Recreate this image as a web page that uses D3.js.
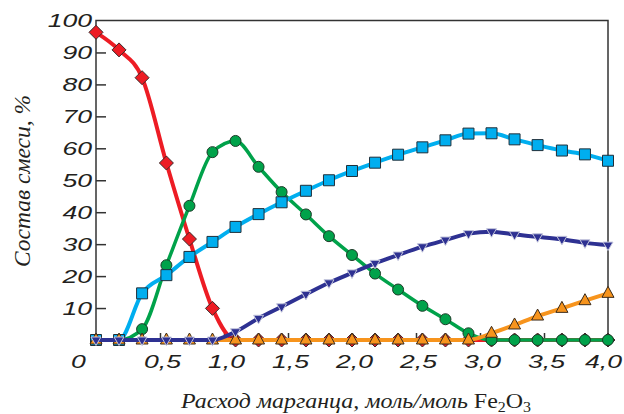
<!DOCTYPE html>
<html>
<head>
<meta charset="utf-8">
<title>Состав смеси</title>
<style>
  body { margin: 0; background: #fff; }
  svg { display: block; }
</style>
</head>
<body>
<div id="chart"></div>
<script src="https://d3js.org/d3.v7.min.js"></script>
<script>
// расход марганца, моль/моль Fe2O3
var xValues = [0, 0.18, 0.36, 0.55, 0.73, 0.91, 1.09, 1.27, 1.45, 1.64, 1.82, 2.0,
               2.18, 2.36, 2.55, 2.73, 2.91, 3.09, 3.27, 3.45, 3.64, 3.82, 4.0];

// состав смеси, %
var redValues    = [96.3, 90.8, 82.1, 55.4, 31.6, 9.9, 0, 0, 0, 0, 0, 0,
                    0, 0, 0, 0, 0, 0, 0, 0, 0, 0, 0];
var greenValues  = [0, 0, 3.4, 23.4, 42.0, 58.8, 62.3, 54.2, 46.3, 39.3, 32.5, 26.6,
                    20.8, 15.8, 10.7, 6.5, 2.1, 0, 0, 0, 0, 0, 0];
var blueValues   = [0, 0, 14.6, 20.3, 26.0, 30.7, 35.4, 39.4, 43.1, 46.7, 50.0, 52.9,
                    55.5, 58.0, 60.3, 62.5, 64.6, 64.7, 62.8, 61.0, 59.3, 58.1, 56.1];
var orangeValues = [0, 0, 0, 0, 0, 0, 0, 0, 0, 0, 0, 0,
                    0, 0, 0, 0, 0, 2.1, 4.7, 7.5, 9.9, 12.3, 14.6];
var navyValues   = [0, 0, 0, 0, 0, 0, 2.6, 6.8, 10.4, 14.3, 17.9, 21.0,
                    24.0, 26.6, 29.2, 31.3, 33.3, 33.9, 33.0, 32.3, 31.5, 30.4, 29.7];

var xTicks = [0, 0.5, 1.0, 1.5, 2.0, 2.5, 3.0, 3.5, 4.0];
var yTicks = [10, 20, 30, 40, 50, 60, 70, 80, 90, 100];

var W = 624, H = 414;
var plotL = 96, plotR = 608, plotT = 20.5, plotB = 340;

var svg = d3.select('#chart').append('svg')
    .attr('width', W)
    .attr('height', H);

var x = d3.scaleLinear().domain([0, 4]).range([plotL, plotR]);
var y = d3.scaleLinear().domain([0, 100]).range([plotB, plotT]);

var ink = '#231f20';

// frame
svg.append('rect')
    .attr('x', plotL).attr('y', plotT)
    .attr('width', plotR - plotL).attr('height', plotB - plotT)
    .attr('fill', 'none')
    .attr('stroke', '#333')
    .attr('stroke-width', 1.5);

var sx = 1.4; // wide numbers

// y axis
var gy = svg.append('g')
    .attr('transform', 'translate(' + plotL + ',0)')
    .call(d3.axisLeft(y).tickValues(yTicks).tickSizeInner(-10).tickSizeOuter(0).tickPadding(4));
gy.select('.domain').remove();
gy.selectAll('line').attr('stroke', '#333').attr('stroke-width', 1.5);
gy.selectAll('.tick').filter(function(d) { return d === 100; }).select('line').remove();
gy.selectAll('text')
    .attr('fill', ink)
    .style('font', 'italic 19px "Liberation Sans", Arial, sans-serif')
    .attr('x', -4 / sx)
    .attr('transform', 'scale(' + sx + ',1)');

// x axis
var gx = svg.append('g')
    .attr('transform', 'translate(0,' + plotB + ')')
    .call(d3.axisBottom(x).tickValues(xTicks).tickSizeInner(-7).tickSizeOuter(0).tickPadding(15)
        .tickFormat(function(d) { return d === 0 ? '0' : d.toFixed(1).replace('.', ','); }));
gx.select('.domain').remove();
gx.selectAll('line').attr('stroke', '#333').attr('stroke-width', 1.5);
gx.selectAll('.tick').filter(function(d) { return d === 0 || d === 4; }).select('line').remove();
gx.selectAll('text')
    .attr('fill', ink)
    .style('font', 'italic 19px "Liberation Sans", Arial, sans-serif')
    .attr('x', function(d) { return (d === 0 ? -18 : d === 4 ? -5 : 2) / sx; })
    .attr('transform', 'scale(' + sx + ',1)');

// axis titles
svg.append('text')
    .attr('transform', 'translate(30,' + 181 + ') rotate(-90)')
    .attr('text-anchor', 'middle')
    .attr('fill', ink)
    .attr('textLength', 172)
    .attr('lengthAdjust', 'spacingAndGlyphs')
    .style('font', 'italic 23px "Liberation Serif", "Times New Roman", serif')
    .text('Состав смеси, %');

var xt = svg.append('text')
    .attr('x', 181).attr('y', 408)
    .attr('fill', ink)
    .attr('textLength', 350)
    .attr('lengthAdjust', 'spacingAndGlyphs')
    .style('font', '21px "Liberation Serif", "Times New Roman", serif');
xt.append('tspan').style('font-style', 'italic').text('Расход марганца, моль/моль ');
xt.append('tspan').text('Fe');
xt.append('tspan').attr('dy', 4).style('font-size', '14px').text('2');
xt.append('tspan').attr('dy', -4).text('O');
xt.append('tspan').attr('dy', 4).style('font-size', '14px').text('3');

// series
var shapes = {
  diamond: 'M0,-7L7,0L0,7L-7,0Z',
  square: 'M-5.5,-5.5h11v11h-11Z',
  triUp: 'M0,-7L6,4L-6,4Z',
  triDown: 'M0,5.5L5,-3L-5,-3Z'
};

var series = [
  { values: redValues,    color: '#ed1c24', width: 4,   shape: 'diamond', stroke: '#3a2a2a' },
  { values: greenValues,  color: '#00a24a', width: 3.5, shape: 'circle',  stroke: '#1d3a28' },
  { values: blueValues,   color: '#00aeef', width: 4,   shape: 'square',  stroke: '#1f2f3a' },
  { values: orangeValues, color: '#f7941d', width: 4,   shape: 'triUp',   stroke: '#3a2a1a' },
  { values: navyValues,   color: '#2e3192', width: 4,   shape: 'triDown', stroke: '#c4c6dc' }
];

var line = d3.line()
    .x(function(d, i) { return x(xValues[i]); })
    .y(function(d) { return y(d); })
    .curve(d3.curveMonotoneX);

series.forEach(function(s) {
  var g = svg.append('g');
  g.append('path')
      .datum(s.values)
      .attr('d', line)
      .attr('fill', 'none')
      .attr('stroke', s.color)
      .attr('stroke-width', s.width)
      .attr('stroke-linejoin', 'round');

  var pts = g.selectAll('.pt')
      .data(s.values)
      .enter();
  if (s.shape === 'circle') {
    pts.append('circle')
        .attr('cx', function(d, i) { return x(xValues[i]); })
        .attr('cy', function(d) { return y(d); })
        .attr('r', 5.5)
        .attr('fill', s.color)
        .attr('stroke', s.stroke)
        .attr('stroke-width', 1);
  } else {
    pts.append('path')
        .attr('d', shapes[s.shape])
        .attr('transform', function(d, i) { return 'translate(' + x(xValues[i]) + ',' + y(d) + ')'; })
        .attr('fill', s.color)
        .attr('stroke', s.stroke)
        .attr('stroke-width', 1);
  }
});
</script>
</body>
</html>
